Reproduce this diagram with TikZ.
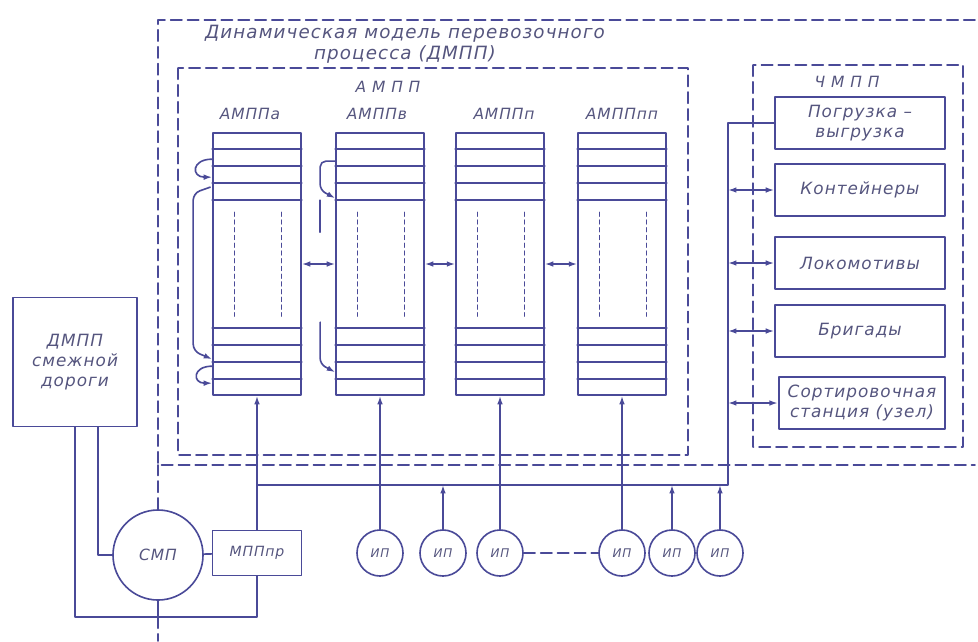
\documentclass[tikz,border=0pt]{standalone}
\usepackage{fontspec}
\setmainfont{DejaVu Sans}
\newfontfamily\draftfont[LetterSpace=6]{DejaVu Sans}
\usepackage{xcolor}
\usepackage{tikz}
\usetikzlibrary{arrows.meta}
\definecolor{dmInk}{HTML}{4A4A98}
\definecolor{dmText}{HTML}{55557E}
\tikzset{
  dm diagram/.style={x=0.025cm, y=-0.025cm, color=dmInk, text=dmText,
    line width=1.15pt, line cap=round, line join=round,
    font=\draftfont\itshape\fontsize{11}{13}\selectfont},
  dm frame/.style={dash pattern=on 8pt off 4pt, line width=1.2pt},
  dm fine/.style={dash pattern=on 3pt off 2.5pt, line width=0.8pt},
  dm box/.style={draw, rectangle, inner sep=2pt, align=center,
    font=\draftfont\itshape\fontsize{12}{14}\selectfont},
  dm column/.style={draw, rectangle, minimum width=2.2cm, minimum height=6.55cm},
  dm source/.style={draw, circle, minimum size=1.15cm, inner sep=0pt,
    font=\draftfont\itshape\fontsize{8.5}{10}\selectfont},
  dm title/.style={align=center, font=\draftfont\itshape\fontsize{13}{15}\selectfont},
  dm label/.style={font=\draftfont\itshape\fontsize{11}{13}\selectfont},
  dm arrow/.style={-{Latex[length=6pt,width=4pt]}},
  dm link/.style={{Latex[length=6pt,width=4pt]}-{Latex[length=6pt,width=4pt]}}
}
\begin{document}
\begin{tikzpicture}[dm diagram]
\useasboundingbox (0,0) rectangle (978,641);
\coordinate (frameCorner) at (158,465);
\draw[dm frame] (975,20) -- (158,20) -- (frameCorner) -- (975,465);
\draw[dm frame] (178,68) rectangle (688,455);
\draw[dm frame] (753,65) rectangle (963,447);
\node[dm title] (title) at (405,44) {Динамическая модель перевозочного\\процесса (ДМПП)};
\node[dm label] (ampp) at (388,87) {А М П П};
\node[dm label] (chmpp) at (847,82) {Ч М П П};

\node[dm column] (colA) at (257,264) {};
\node[dm column] (colB) at (380,264) {};
\node[dm column] (colC) at (500,264) {};
\node[dm column] (colD) at (622,264) {};
\node[dm label] (labA) at (250,114) {АМППа};
\node[dm label] (labB) at (377,114) {АМППв};
\node[dm label] (labC) at (504,114) {АМППп};
\node[dm label] (labD) at (622,114) {АМППпп};
\foreach \c in {colA,colB,colC,colD}{
  \foreach \d in {0.425,0.85,1.275,1.7}{
    \draw ([yshift=-\d cm]\c.north west) -- ([yshift=-\d cm]\c.north east);
    \draw ([yshift=\d cm]\c.south west) -- ([yshift=\d cm]\c.south east);
  }
  \draw[dm fine] ([xshift=0.55cm,yshift=-2cm]\c.north west) -- ([xshift=0.55cm,yshift=-4.6cm]\c.north west);
  \draw[dm fine] ([xshift=-0.5cm,yshift=-2cm]\c.north east) -- ([xshift=-0.5cm,yshift=-4.6cm]\c.north east);
}
\draw[dm link] (colA) -- (colB);
\draw[dm link] (colB) -- (colC);
\draw[dm link] (colC) -- (colD);

\draw[dm arrow] (colA.north west) ++(0,27) to[out=180,in=180,looseness=3] ++(0,18);
\draw[dm arrow,rounded corners=5pt] (colA.north west) ++(-2,55) -- ++(-17,6) -- ++(0,158) -- ++(19,8);
\draw[dm arrow] (colA.north west) ++(0,234) to[out=180,in=180,looseness=3] ++(0,17);
\draw[dm arrow,rounded corners=4pt] (colB.north west) ++(0,29) -- ++(-15,0) -- ++(0,29) -- ++(15,8);
\draw (colB.north west) ++(-15,68) -- ++(0,32);
\draw[dm arrow,rounded corners=4pt] (colB.north west) ++(-15,190) -- ++(0,42) -- ++(15,8);

\node[dm box,minimum width=4.25cm,minimum height=1.3cm] (load) at (860,123) {Погрузка –\\выгрузка};
\node[dm box,minimum width=4.25cm,minimum height=1.3cm] (cont) at (860,190) {Контейнеры};
\node[dm box,minimum width=4.25cm,minimum height=1.3cm] (loco) at (860,263) {Локомотивы};
\node[dm box,minimum width=4.25cm,minimum height=1.3cm] (brig) at (860,331) {Бригады};
\node[dm box,minimum width=4.15cm,minimum height=1.3cm,line width=1.6pt] (sort) at (862,403) {Сортировочная\\станция (узел)};

\coordinate (busL) at (257,485);
\coordinate (busR) at (728,485);
\draw (load.west) -| (busR) -- (busL);
\foreach \b in {cont,loco,brig,sort}
  \draw[dm link] (busR |- \b.west) -- (\b.west);

\node[dm box,minimum width=3.1cm,minimum height=3.225cm] (dmpp) at (75,362) {ДМПП\\смежной\\дороги};
\node[draw,circle,minimum size=2.25cm] (smp) at (158,555) {СМП};
\node[dm box,minimum width=2.225cm,minimum height=1.125cm,font=\draftfont\itshape\fontsize{10}{12}\selectfont] (mpppr) at (257,553) {МППпр};
\coordinate (smpBot) at (158,617);
\coordinate (exitPt) at (158,641);
\draw (smp) -- (mpppr);
\draw[dm arrow] (mpppr) -- (colA);
\draw (dmpp.south) |- (smpBot) -| (mpppr.south);
\draw ([xshift=0.575cm]dmpp.south) |- (smp.west);
\draw (smp.south) -- (smpBot);
\draw[dm frame] (smpBot) -- (exitPt);
\draw[dm frame] (smp.north) -- (frameCorner);

\foreach \n/\x in {1/380,2/443,3/500,4/622,5/672,6/720}
  \node[dm source] (ip\n) at (\x,553) {ИП};
\draw[dm arrow] (ip1) -- (colB);
\draw[dm arrow] (ip3) -- (colC);
\draw[dm arrow] (ip4) -- (colD);
\foreach \n in {2,5,6}
  \draw[dm arrow] (ip\n) -- (ip\n |- busL);
\draw[dm frame] (ip3) -- (ip4);
\end{tikzpicture}
\end{document}
